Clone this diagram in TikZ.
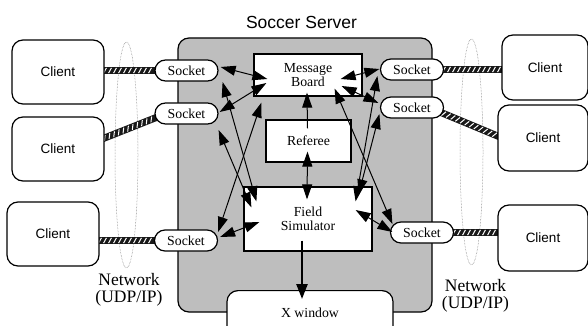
\documentclass[tikz,border=0pt]{standalone}
\usepackage{fontspec}
\setmainfont{Liberation Serif}
\newfontfamily\clientfont{Liberation Sans}
\usetikzlibrary{arrows.meta,calc,decorations.markings,shapes.misc}
\definecolor{srvgray}{RGB}{190,190,190}
\begin{document}
\begin{tikzpicture}[x=1pt,y=-1pt,
  serverbox/.style={draw=black, line width=1.2pt, fill=srvgray, rounded corners=11pt, inner sep=0pt},
  clientbox/.style={draw=black, line width=1.2pt, fill=white, rounded corners=11pt, inner sep=0pt,
     font=\clientfont\fontsize{13.5}{15}\selectfont},
  sockbox/.style={draw=black, line width=1.2pt, fill=white, rounded rectangle, inner sep=0pt,
     minimum width=63pt, minimum height=21pt, font=\fontsize{13.8}{15}\selectfont},
  procbox/.style={draw=black, line width=1.2pt, fill=white, inner sep=0pt, align=center,
     font=\fontsize{13.8}{13.5}\selectfont},
  xwbox/.style={draw=black, line width=1.2pt, fill=white, rounded corners=11pt, inner xsep=0pt,
     font=\fontsize{13.8}{15}\selectfont},
  netlabel/.style={align=center, font=\fontsize{17.5}{17.5}\selectfont, inner sep=0pt},
  netring/.style={densely dotted, draw=black!55, line width=0.5pt},
  cable/.style={line width=7pt, draw=black!90, line cap=butt,
     postaction={decorate, decoration={markings,
       mark=between positions 3pt and -3pt step 5pt with
         {\draw[white, line width=1pt, line cap=butt] (-1.4pt,-2.6pt) -- (1.4pt,2.6pt);}}}},
  tipA/.tip={Triangle[length=15pt,width=10pt]},
  arr/.style={line width=1pt, tipA-tipA},
  onearr/.style={line width=1pt, -tipA},
  thickarr/.style={line width=2.4pt, -{Triangle[length=15pt,width=11pt]}}
]
\clip (0,0) rectangle (588,326);
\fill[white] (0,0) rectangle (588,326);

% server
\node[serverbox, minimum width=254pt, minimum height=274pt] (srv) at (305,175) {};
\node[font=\clientfont\fontsize{17.5}{17.5}\selectfont, anchor=base, inner sep=0pt] (title) at (301.5,28.5) {Soccer Server};

% network rings
\draw[netring] (126.5,155) ellipse [x radius=11.5pt, y radius=113pt];
\draw[netring] (471.5,152) ellipse [x radius=11.5pt, y radius=113pt];

% socket positions
\path (186.5,70.5) coordinate (slt0) (186.5,113.5) coordinate (slm0) (186,240.5) coordinate (slb0)
      (412,69.5) coordinate (srt0) (412,107.5) coordinate (srm0) (422,232.5) coordinate (srb0);
% client positions
\path (58,72) coordinate (lt0) (58,149) coordinate (lm0) (53,234) coordinate (lb0)
      (545,67.5) coordinate (rt0) (543,138) coordinate (rm0) (543,238) coordinate (rb0);

% cables
\draw[cable] ($(lt0)+(44,-1.5)$) -- ($(slt0)+(-29,0)$);
\draw[cable] ($(lm0)+(44,-10)$) -- ($(slm0)+(-29,3.5)$);
\draw[cable] ($(lb0)+(44,6.5)$) -- ($(slb0)+(-29,0)$);
\draw[cable] ($(srt0)+(29,0)$) -- ($(rt0)+(-41,2)$);
\draw[cable] ($(srm0)+(29,5)$) -- ($(rm0)+(-43,-1)$);
\draw[cable] ($(srb0)+(29,0)$) -- ($(rb0)+(-43,-5.5)$);

% clients
\node[clientbox, minimum width=92pt, minimum height=64pt] (lt) at (lt0) {Client};
\node[clientbox, minimum width=92pt, minimum height=64pt] (lm) at (lm0) {Client};
\node[clientbox, minimum width=92pt, minimum height=64pt] (lb) at (lb0) {Client};
\node[clientbox, minimum width=86pt, minimum height=65pt] (rt) at (rt0) {Client};
\node[clientbox, minimum width=90pt, minimum height=66pt] (rm) at (rm0) {Client};
\node[clientbox, minimum width=90pt, minimum height=66pt] (rb) at (rb0) {Client};

% sockets
\node[sockbox] (slt) at (slt0) {Socket};
\node[sockbox] (slm) at (slm0) {Socket};
\node[sockbox] (slb) at (slb0) {Socket};
\node[sockbox] (srt) at (srt0) {Socket};
\node[sockbox] (srm) at (srm0) {Socket};
\node[sockbox] (srb) at (srb0) {Socket};

% server modules
\node[procbox, minimum width=108pt, minimum height=42pt] (mb) at (308,75) {Message\\Board};
\node[procbox, minimum width=85pt, minimum height=42pt] (ref) at (308.5,141) {Referee};
\node[procbox, minimum width=128pt, minimum height=64pt] (fs) at (308,219) {Field\\Simulator};
\node[xwbox, text height=9pt, text depth=3pt, inner ysep=17.5pt, minimum width=166pt, anchor=north] (xw) at (310,290) {X window};

% network labels
\node[netlabel] (netl) at (129,290) {Network\\(UDP/IP)};
\node[netlabel] (netr) at (475.5,296) {Network\\(UDP/IP)};

% connectors, left
\draw[arr] ($(slt.east)+(2,-3.5)$) -- ($(mb.west)+(14,4)$);
\draw[arr] ($(slm.east)+(1,-1.5)$) -- ($(mb.west)+(13,8)$);
\draw[arr] ($(slt.east)+(4,11.5)$) -- ($(fs.north west)+(13,15)$);
\draw[arr] ($(slm.east)+(0,16.5)$) -- ($(fs.north west)+(8,21)$);
\draw[arr] ($(slb.east)+(0,-8.5)$) -- ($(mb.south west)+(8,6)$);
\draw[arr] ($(slb.east)+(2,-3.5)$) -- ($(fs.west)+(16,3)$);

% connectors, centre
\draw[onearr] ($(ref.north)+(-1,9)$) -- ($(mb.south)+(-1,-4)$);
\draw[arr] ($(ref.south)+(-1,-11)$) -- ($(fs.north)+(-1,13)$);
\draw[thickarr] ($(fs.south)+(-6,-11)$) -- ($(xw.north)+(-8,9)$);

% connectors, right
\draw[arr] ($(srt.west)+(-0.5,-0.5)$) -- ($(mb.east)+(-22,4)$);
\draw[arr] ($(srm.west)+(-1.5,-4.5)$) -- ($(mb.east)+(-21,11)$);
\draw[arr] ($(srt.west)+(-2.5,6.5)$) -- ($(fs.north east)+(-17,15)$);
\draw[arr] ($(srm.west)+(-0.5,6.5)$) -- ($(fs.north east)+(-14,8)$);
\draw[arr] ($(mb.south east)+(-28,-8)$) -- ($(srb.west)+(2.5,-8.5)$);
\draw[arr] ($(fs.east)+(-17,-9)$) -- ($(srb.west)+(2.5,-0.5)$);
\end{tikzpicture}
\end{document}
